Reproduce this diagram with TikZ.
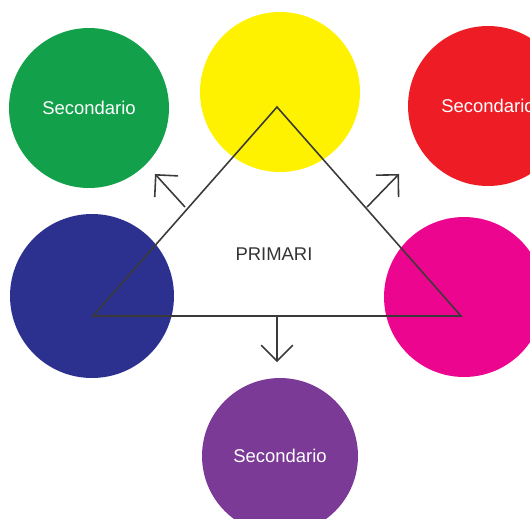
\documentclass[tikz,border=0pt]{standalone}
\usepackage{fontspec}
\setmainfont{Liberation Sans}
\usepackage{xcolor}
\usetikzlibrary{arrows.meta}

\definecolor{cgreen}{HTML}{12A04B}
\definecolor{cyellow}{HTML}{FFF200}
\definecolor{cred}{HTML}{EE1C25}
\definecolor{cblue}{HTML}{2C3190}
\definecolor{cmagenta}{HTML}{EC058E}
\definecolor{cpurple}{HTML}{7B3A96}
\definecolor{cline}{HTML}{3A3A3A}

\begin{document}
\begin{tikzpicture}[x=0.02cm,y=-0.02cm,
    colore/.style={circle, minimum size=3.2cm, inner sep=0pt, text=white, font=\fontsize{10.5}{12}\selectfont},
    freccia/.style={-{Straight Barb[length=9pt,width=18pt]}, cline, line width=0.9pt}]
    \useasboundingbox (0,0) rectangle (530,518);
                \node[colore, fill=cgreen] (verde) at (89,108) {Secondario};
                \node[colore, fill=cyellow] (giallo) at (280,92) {};
                \node[colore, fill=cred] (rosso) at (488,106) {Secondario};
                \node[colore, fill=cblue, minimum size=3.28cm] (blu) at (92,296) {};
                \node[colore, fill=cmagenta] (magenta) at (464,297) {};
                \node[colore, fill=cpurple, minimum size=3.12cm] (viola) at (280,456) {Secondario};
                \coordinate (vt) at (277,107);
                \coordinate (vs) at (93,316);
                \coordinate (vd) at (461,316);
                \draw[cline, line width=0.9pt] (vs) -- (vt) -- (vd) -- cycle;
                \node[font=\fontsize{10.5}{12}\selectfont, text=black!80] (primari) at (274,254) {PRIMARI};
                \coordinate (ms) at (185,207);
                \coordinate (md) at (367,207);
                \coordinate (mb) at (277,316);
                \coordinate (fs) at (155,174);
                \coordinate (fd) at (399,174);
                \coordinate (fb) at (277,362);
                \draw[freccia] (ms) -- (fs);
                \draw[freccia] (md) -- (fd);
                \draw[freccia] (mb) -- (fb);
            \end{tikzpicture}
\end{document}
